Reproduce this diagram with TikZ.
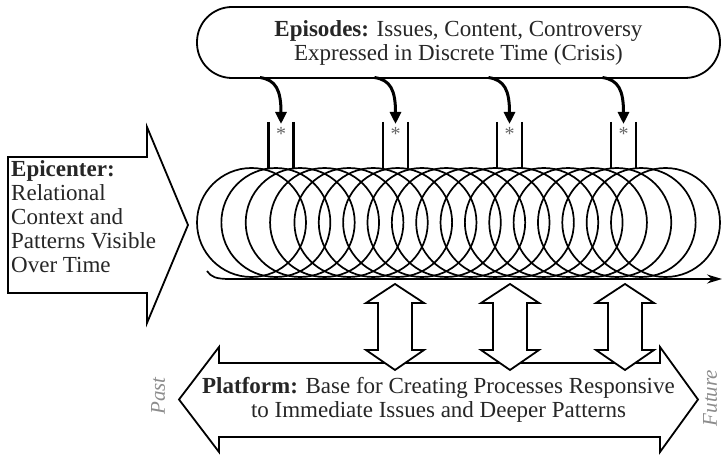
\documentclass[tikz,border=0pt]{standalone}
\usepackage{fontspec}
\setmainfont{Liberation Serif}
\usetikzlibrary{arrows.meta}
\begin{document}
\begin{tikzpicture}[x=1pt,y=-1pt,
  lbl/.style={font=\fontsize{23}{24}\selectfont, text=black!85, align=center, inner sep=0pt},
  side/.style={font=\fontsize{21}{22}\selectfont\itshape, text=black!45, inner sep=0pt},
  blockarrow/.style={draw=black, line width=1.8pt, fill=white, line join=miter},
  epbox/.style={draw=black, line width=1.8pt, rounded corners=35pt, minimum width=523pt, minimum height=71pt, inner sep=0pt},
  curv/.style={line width=3pt, -{Triangle[length=12pt,width=11pt]}},
  pairline/.style={line width=2.2pt},
  coilline/.style={line width=1.7pt},
  starlbl/.style={font=\fontsize{20}{20}\selectfont, text=black!60, inner sep=0pt}
]
\useasboundingbox (0,0) rectangle (724,457);

% Episodes box
\node[epbox, lbl] (ep) at (458.5,42.5) {\textbf{Episodes:} Issues, Content, Controversy\\Expressed in Discrete Time (Crisis)};

% coil
\foreach \i in {0,...,17}
  \draw[coilline] (251.5+\i*24.353,222.5) circle[radius=54.5pt];
\coordinate (cs) at (207,271);
\coordinate (ce) at (722,279);
\draw[line width=1.7pt, -{Stealth[length=15pt,width=9pt]}] (cs) .. controls (211,277) and (216,279) .. (230,279) -- (ce);

% stars, pairs and curved arrows
\foreach \c/\n in {281/1,395.5/2,509.5/3,623.5/4} {
  \draw[pairline] (\c-12.5,122) -- (\c-12.5,168.5);
  \draw[pairline] (\c+12.5,122) -- (\c+12.5,168.5);
  \node[starlbl] (st\n) at (\c,134) {*};
  \coordinate (s\n) at (\c-21,77.5);
  \coordinate (e\n) at (\c,124);
  \draw[curv] (s\n) .. controls (\c-5,80) and (\c,90) .. (e\n);
}

% Epicenter arrow
\draw[blockarrow] (8,157) -- (147,157) -- (147,127) -- (188,225) -- (147,323) -- (147,293) -- (8,293) -- cycle;
\node[lbl, align=left, anchor=north west] (epi) at (11,160) {\textbf{Epicenter:}\\Relational\\Context and\\Patterns Visible\\Over Time};

% Platform arrow
\draw[blockarrow] (179,399.5) -- (219,347) -- (219,363) -- (660,363) -- (660,347) -- (698,399.5) -- (660,452) -- (660,437) -- (219,437) -- (219,452) -- cycle;
\node[lbl] (plat) at (438.5,400) {\textbf{Platform:} Base for Creating Processes Responsive\\to Immediate Issues and Deeper Patterns};

% vertical double arrows
\foreach \c in {395,510,625}
  \draw[blockarrow] (\c,284) -- (\c+29,303) -- (\c+17,303) -- (\c+17,350) -- (\c+29,350) -- (\c,370) -- (\c-29,350) -- (\c-17,350) -- (\c-17,303) -- (\c-29,303) -- cycle;

% Past / Future
\node[side, rotate=90] (past) at (158,396) {Past};
\node[side, rotate=90] (fut) at (710,398) {Future};
\end{tikzpicture}
\end{document}
